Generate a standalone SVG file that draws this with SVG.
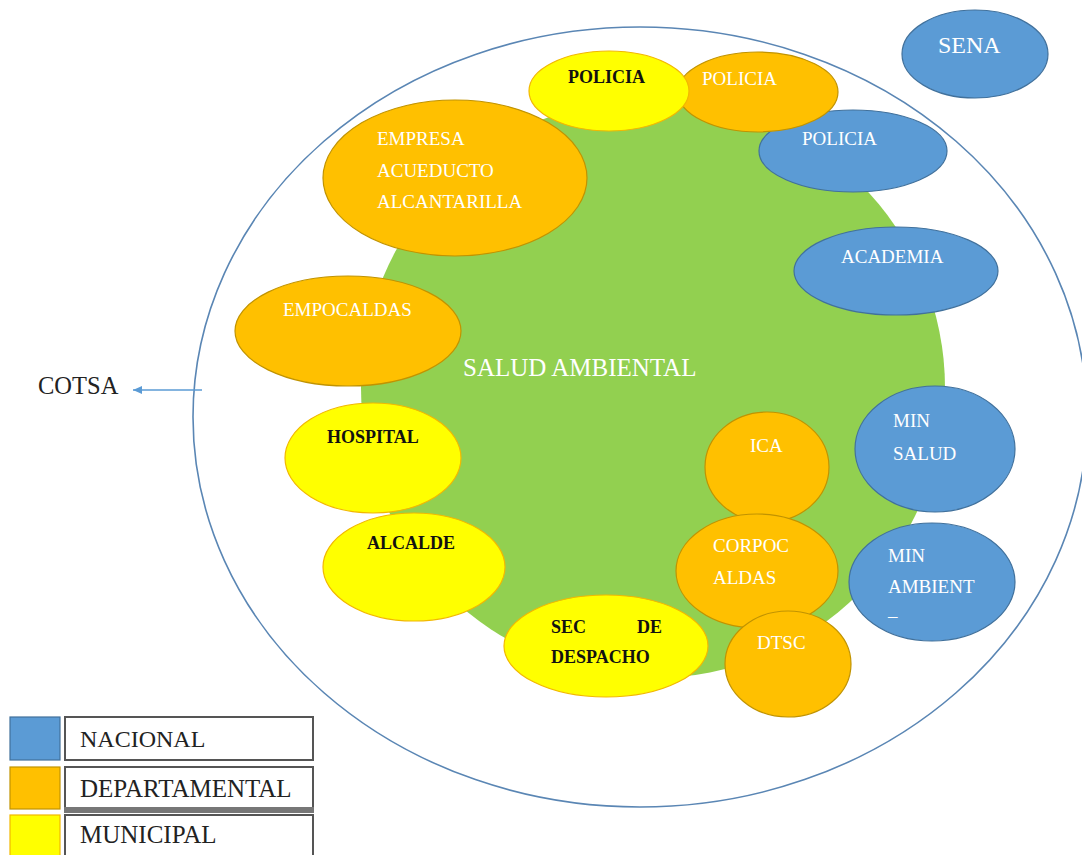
<svg xmlns="http://www.w3.org/2000/svg" width="1082" height="855" viewBox="0 0 1082 855">
<defs>
<style>
.nac{fill:#5b9bd5;stroke:#41719c;stroke-width:1.2}
.dep{fill:#ffc000;stroke:#c19300;stroke-width:1.2}
.mun{fill:#ffff00;stroke:#f2b800;stroke-width:1.2}
.w{font-family:"Liberation Serif",serif;font-size:19px;fill:#ffffff}
.b{font-family:"Liberation Serif",serif;font-size:18px;font-weight:bold;fill:#111111}
.k{font-family:"Liberation Serif",serif;font-size:24px;fill:#222222}
.box{fill:#ffffff;stroke:#555555;stroke-width:2}
</style>
<marker id="arr" markerWidth="10" markerHeight="10" refX="9" refY="5" orient="auto" markerUnits="userSpaceOnUse">
<path d="M0,1 L9,5 L0,9 Z" fill="#5b9bd5"/>
</marker>
</defs>
<rect width="1082" height="855" fill="#ffffff"/>

<g id="outer">
<ellipse cx="640" cy="417" rx="447" ry="390" fill="none" stroke="#5a86b4" stroke-width="1.6"/>
</g>

<g id="salud-ambiental">
<ellipse cx="653" cy="388" rx="292" ry="290" fill="#92d050"/>
<text x="463" y="376" style="font-family:'Liberation Serif',serif;font-size:25px;fill:#ffffff">SALUD AMBIENTAL</text>
</g>

<g id="connectors">
<line x1="202" y1="390" x2="133" y2="390" stroke="#5b9bd5" stroke-width="1.5" marker-end="url(#arr)"/>
</g>

<g id="cotsa">
<text x="38" y="394" class="k" style="font-size:24.5px">COTSA</text>
</g>

<g id="sena">
<ellipse cx="975" cy="54" rx="73" ry="44" class="nac"/>
<text x="938" y="53" class="w" style="font-size:24px">SENA</text>
</g>

<g id="policia-nac">
<ellipse cx="853" cy="151" rx="94" ry="41" class="nac"/>
<text x="802" y="145" class="w">POLICIA</text>
</g>

<g id="policia-dep">
<ellipse cx="758" cy="92" rx="80" ry="40" class="dep"/>
<text x="702" y="85" class="w">POLICIA</text>
</g>

<g id="policia-mun">
<ellipse cx="609" cy="91" rx="80" ry="40" class="mun"/>
<text x="568" y="83" class="b">POLICIA</text>
</g>

<g id="academia">
<ellipse cx="896" cy="271" rx="102" ry="44" class="nac"/>
<text x="841" y="263" class="w">ACADEMIA</text>
</g>

<g id="empresa">
<ellipse cx="455" cy="178" rx="132" ry="78" class="dep"/>
<text class="w"><tspan x="377" y="145">EMPRESA</tspan><tspan x="377" y="177">ACUEDUCTO</tspan><tspan x="377" y="208">ALCANTARILLA</tspan></text>
</g>

<g id="empocaldas">
<ellipse cx="348" cy="331" rx="113" ry="55" class="dep"/>
<text x="283" y="316" class="w">EMPOCALDAS</text>
</g>

<g id="hospital">
<ellipse cx="373" cy="458" rx="88" ry="55" class="mun"/>
<text x="327" y="443" class="b">HOSPITAL</text>
</g>

<g id="alcalde">
<ellipse cx="414" cy="567" rx="91" ry="54" class="mun"/>
<text x="367" y="549" class="b">ALCALDE</text>
</g>

<g id="sec-despacho">
<ellipse cx="606" cy="646" rx="102" ry="51" class="mun"/>
<text class="b"><tspan x="551" y="633">SEC</tspan><tspan x="637" y="633">DE</tspan><tspan x="551" y="663">DESPACHO</tspan></text>
</g>

<g id="ica">
<ellipse cx="767" cy="467" rx="62" ry="55" class="dep"/>
<text x="750" y="452" class="w">ICA</text>
</g>

<g id="corpocaldas">
<ellipse cx="757" cy="571" rx="81" ry="57" class="dep"/>
<text class="w"><tspan x="713" y="552">CORPOC</tspan><tspan x="713" y="584">ALDAS</tspan></text>
</g>

<g id="dtsc">
<ellipse cx="788" cy="664" rx="63" ry="53" class="dep"/>
<text x="757" y="649" class="w">DTSC</text>
</g>

<g id="min-salud">
<ellipse cx="935" cy="449" rx="80" ry="63" class="nac"/>
<text class="w"><tspan x="893" y="427">MIN</tspan><tspan x="893" y="460">SALUD</tspan></text>
</g>

<g id="min-ambiente">
<ellipse cx="932" cy="582" rx="83" ry="59" class="nac"/>
<text class="w"><tspan x="888" y="562">MIN</tspan><tspan x="888" y="593">AMBIENT</tspan><tspan x="888" y="622">–</tspan></text>
</g>

<g id="legend">
<rect x="10" y="717" width="50" height="43" class="nac"/>
<rect x="65" y="717" width="248" height="43" class="box"/>
<text x="80" y="747" class="k">NACIONAL</text>
<rect x="10" y="767" width="50" height="42" class="dep"/>
<rect x="65" y="767" width="248" height="41" class="box"/>
<rect x="64" y="807" width="250" height="6" fill="#777777"/>
<text x="80" y="797" class="k" style="font-size:25px">DEPARTAMENTAL</text>
<rect x="10" y="815" width="50" height="50" class="mun"/>
<rect x="65" y="815" width="248" height="50" class="box"/>
<text x="80" y="843" class="k" style="font-size:25px">MUNICIPAL</text>
</g>
</svg>
